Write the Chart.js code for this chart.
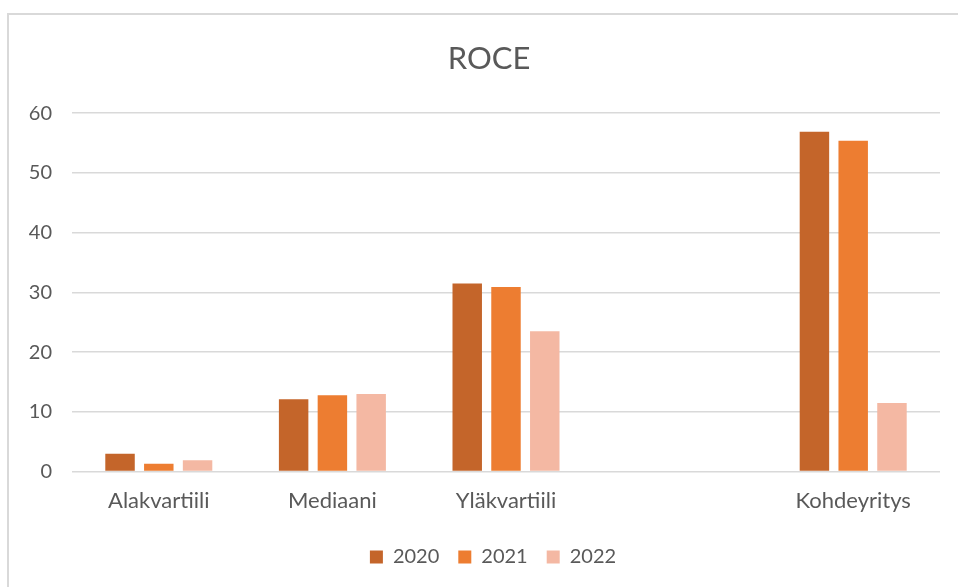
<!DOCTYPE html>
<html>
<head>
<meta charset="utf-8">
<script src="https://cdn.jsdelivr.net/npm/chart.js@4/dist/chart.umd.min.js"></script>
<style>
  html, body { margin: 0; padding: 0; background: #fff; overflow: hidden; }
  #wrap { position: relative; width: 958px; height: 587px; }
  #frame {
    position: absolute; left: 7px; top: 13px; width: 1000px; height: 700px;
    border: 2px solid #d9d9d9; box-sizing: border-box; pointer-events: none;
  }
  canvas { position: absolute; left: 0; top: 0; }
</style>
</head>
<body>
<div id="wrap">
  <canvas id="chart" width="958" height="587"></canvas>
  <div id="frame"></div>
</div>
<script>
// Quartile groups plus the target company; the blank slot keeps the gap before it
const categories = ['Alakvartiili', 'Mediaani', 'Yläkvartiili', '', 'Kohdeyritys'];
const years = ['2020', '2021', '2022'];
const values2020 = [3.0, 12.1, 31.5, null, 56.9];
const values2021 = [1.3, 12.8, 30.9, null, 55.4];
const values2022 = [1.9, 13.0, 23.5, null, 11.5];
const yTicks = [0, 10, 20, 30, 40, 50, 60];

const colors = ['#c4652a', '#ed7d31', '#f4b8a3'];
const seriesValues = [values2020, values2021, values2022];

const textColor = '#595959';
const fontFamily = 'Lato, "Open Sans", sans-serif';

// Nudge the title and legend a little right of the canvas centre
const centreNudge = {
  id: 'centreNudge',
  afterLayout(chart) {
    const shift = (box, dx) => { if (box) { box.left += dx; box.right += dx; } };
    shift(chart.titleBlock, 5);
    shift(chart.legend, 9);
  }
};

new Chart(document.getElementById('chart'), {
  type: 'bar',
  data: {
    labels: categories,
    datasets: years.map((y, i) => ({
      label: y,
      data: seriesValues[i],
      backgroundColor: colors[i],
      borderWidth: 0,
      categoryPercentage: 0.67,
      barPercentage: 0.76
    }))
  },
  plugins: [centreNudge],
  options: {
    responsive: false,
    animation: false,
    layout: { padding: { left: 28, right: 18, top: 0, bottom: 10 } },
    plugins: {
      title: {
        display: true,
        text: 'ROCE',
        color: textColor,
        font: { family: fontFamily, size: 31, weight: 'normal' },
        padding: { top: 40, bottom: 36 }
      },
      legend: {
        position: 'bottom',
        labels: {
          color: textColor,
          font: { family: fontFamily, size: 20 },
          boxWidth: 13,
          boxHeight: 13,
          padding: 19
        }
      },
      tooltip: { enabled: false }
    },
    scales: {
      x: {
        grid: { display: false },
        border: { display: false },
        afterFit: (scale) => { scale.height += 6; },
        ticks: {
          color: textColor,
          font: { family: fontFamily, size: 22 },
          padding: 8,
          maxRotation: 0,
          autoSkip: false
        }
      },
      y: {
        min: 0,
        max: 60,
        afterBuildTicks: (scale) => { scale.ticks = yTicks.map(v => ({ value: v })); },
        afterFit: (scale) => { scale.width = 44; },
        grid: { color: '#d9d9d9', lineWidth: 1.6, drawTicks: false },
        border: { display: false },
        ticks: {
          color: textColor,
          font: { family: fontFamily, size: 20 },
          padding: 20
        }
      }
    }
  }
});
</script>
</body>
</html>
